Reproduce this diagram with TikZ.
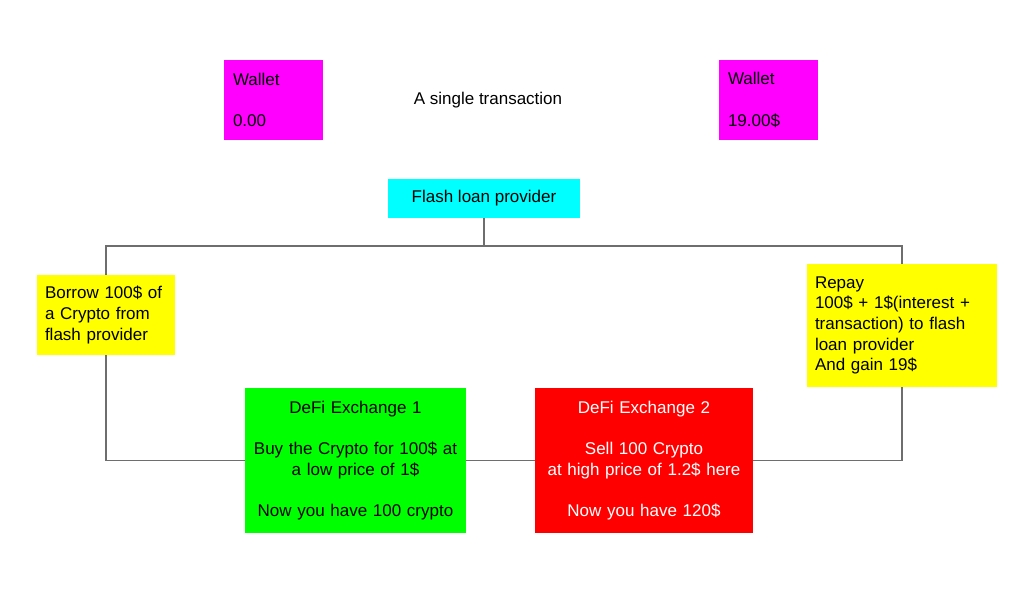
\documentclass[tikz,border=0pt]{standalone}
\usepackage{fontspec}
\setmainfont{Liberation Sans}
\definecolor{lineg}{RGB}{110,110,110}
\definecolor{mag}{RGB}{255,0,255}
\definecolor{cyn}{RGB}{0,255,255}
\definecolor{yel}{RGB}{255,255,0}
\definecolor{grn}{RGB}{0,255,0}
\definecolor{rd}{RGB}{255,0,0}
\begin{document}
\begin{tikzpicture}[x=1pt,y=-1pt,
  every node/.style={font=\fontsize{17}{20.7}\selectfont, text=black},
  box/.style={draw=none, rectangle, inner ysep=0pt},
  conn/.style={draw=lineg, line width=1.3pt}]
\useasboundingbox (0,0) rectangle (1030,592);
\fill[white] (0,0) rectangle (1030,592);
% wallets and title
\node[box, fill=mag, minimum width=99pt, minimum height=80pt, inner xsep=9pt, text width=81pt, align=left] (w1) at (273.5,100) {Wallet\\[20.7pt]0.00};
\node[box, fill=mag, minimum width=99pt, minimum height=80pt, inner xsep=9pt, text width=81pt, align=left] (w2) at (768.5,100) {Wallet\\[20.7pt]19.00\$};
\node (title) at (488,100) {A single transaction};
% flash loan provider
\node[box, fill=cyn, minimum width=192pt, minimum height=39pt] (flash) at (484,198.5) {Flash loan provider};
% borrow / repay
\node[box, fill=yel, minimum width=138pt, minimum height=80pt, inner xsep=8pt, text width=122pt, align=left] (ly) at (106,315) {Borrow 100\$ of\\a Crypto from\\flash provider};
\node[box, fill=yel, minimum width=190pt, minimum height=123pt, inner xsep=8pt, text width=174pt, align=left] (ry) at (902,325.5) {Repay\\100\$ + 1\$(interest +\\transaction) to flash\\loan provider\\And gain 19\$};
% exchanges
\node[box, fill=grn, minimum width=221pt, minimum height=145pt, inner xsep=4pt, text width=213pt, align=center] (green) at (355.5,460.5) {DeFi Exchange 1\\[20.7pt]Buy the Crypto for 100\$ at\\a low price of 1\$\\[20.7pt]Now you have 100 crypto};
\node[box, fill=rd, minimum width=218pt, minimum height=145pt, inner xsep=4pt, text width=210pt, align=center, text=white] (red) at (644,460.5) {DeFi Exchange 2\\[20.7pt]Sell 100 Crypto\\at high price of 1.2\$ here\\[20.7pt]Now you have 120\$};
% connectors
\coordinate (j) at (484,246);
\draw[conn] (flash.south) -- (j) -| (ly.north);
\draw[conn] (j) -| (ry.north);
\draw[conn] (ly.south) |- (green.west);
\draw[conn] (green.east) -- (red.west);
\draw[conn] (red.east) -| (ry.south);
\end{tikzpicture}
\end{document}
